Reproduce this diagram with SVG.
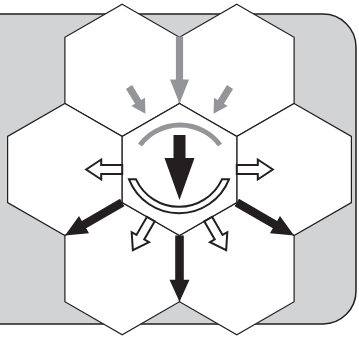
<svg xmlns="http://www.w3.org/2000/svg" xmlns:xlink="http://www.w3.org/1999/xlink" width="359" height="337" viewBox="0 0 359 337">
<style>
.hex{fill:#fff;stroke:#231f20;stroke-width:1.2}
.blk{fill:#231f20}
.gry{fill:#939598}
.hol{fill:#fff;stroke:#231f20;stroke-width:2;stroke-linejoin:miter}
</style>
<defs>
<polygon id="hexshape" points="0,-66.1 57.3,-33.05 57.3,33.05 0,66.1 -57.3,33.05 -57.3,-33.05"/>
<polygon id="blackArrow" points="0,-4.3 44.1,-4.3 44.1,-10 66.1,0 44.1,10 44.1,4.3 0,4.3"/>
<polygon id="grayLong" points="0,-3.6 43,-3.6 43,-9.5 67,0 43,9.5 43,3.6 0,3.6"/>
<polygon id="grayShort" points="0,-3.6 17.5,-3.6 17.5,-8 31.5,0 17.5,8 17.5,3.6 0,3.6"/>
<polygon id="hollowArrow" points="0,-4.5 21,-4.5 21,-10 36,0 21,10 21,4.5 0,4.5"/>
</defs>
<rect id="background" x="-40" y="14" width="396" height="310" rx="33" ry="33" fill="#d1d3d4" stroke="#231f20" stroke-width="1.5"/>
<g id="hex-top-left"><use xlink:href="#hexshape" class="hex" transform="translate(122.2,70.35)"/></g>
<g id="hex-top-right"><use xlink:href="#hexshape" class="hex" transform="translate(236.8,70.35)"/></g>
<g id="hex-mid-left"><use xlink:href="#hexshape" class="hex" transform="translate(64.9,169.5)"/></g>
<g id="hex-mid-right"><use xlink:href="#hexshape" class="hex" transform="translate(294.1,169.5)"/></g>
<g id="hex-bottom-left"><use xlink:href="#hexshape" class="hex" transform="translate(122.2,268.65)"/></g>
<g id="hex-bottom-right"><use xlink:href="#hexshape" class="hex" transform="translate(236.8,268.65)"/></g>
<g id="hex-center">
<use xlink:href="#hexshape" class="hex" transform="translate(179.5,169.5)"/>
<path d="M140,145 A50,50 0 0 1 220,145" fill="none" stroke="#939598" stroke-width="5"/>
<polygon class="blk" points="173.5,135 185.5,135 185.5,158 194.5,158 179.5,200 164.5,158 173.5,158"/>
<path class="hol" d="M129,179.3 A53.8,53.8 0 0 0 229,179.3 L221.96,179.3 A47.3,47.3 0 0 1 136.04,179.3 Z"/>
</g>
<g id="connectors">
<use xlink:href="#grayLong" class="gry" transform="translate(179.5,36.5) rotate(90)"/>
<use xlink:href="#grayShort" class="gry" transform="translate(129,87) rotate(58.5)"/>
<use xlink:href="#grayShort" class="gry" transform="translate(230,87) rotate(121.5)"/>
<use xlink:href="#hollowArrow" class="hol" transform="translate(122.2,169.5) rotate(180)"/>
<use xlink:href="#hollowArrow" class="hol" transform="translate(236.8,169.5)"/>
<use xlink:href="#hollowArrow" class="hol" transform="translate(150.85,219.05) rotate(120)"/>
<use xlink:href="#hollowArrow" class="hol" transform="translate(208.15,219.05) rotate(60)"/>
<use xlink:href="#blackArrow" class="blk" transform="translate(122.2,202.55) rotate(150)"/>
<use xlink:href="#blackArrow" class="blk" transform="translate(236.8,202.55) rotate(30)"/>
<use xlink:href="#blackArrow" class="blk" transform="translate(179.5,235.6) rotate(90)"/>
</g>
</svg>
